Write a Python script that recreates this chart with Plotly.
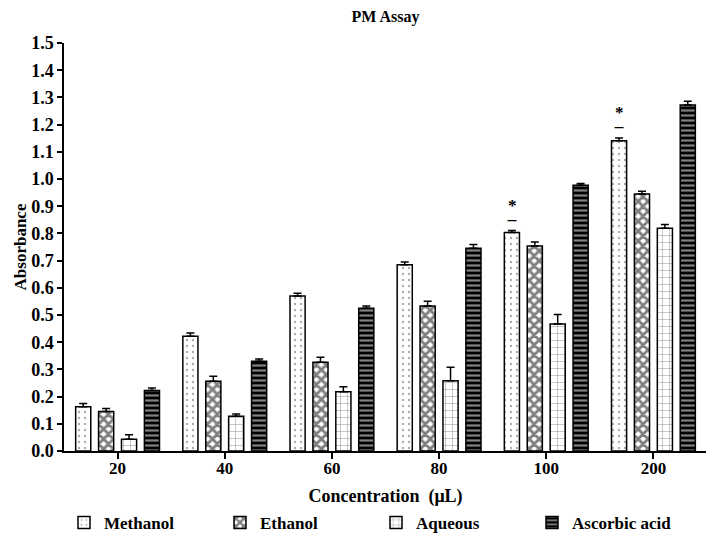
import plotly.graph_objects as go

# data
concentrations = ["20", "40", "60", "80", "100", "200"]
methanol = [0.163, 0.422, 0.570, 0.685, 0.803, 1.141]
methanol_err = [0.012, 0.012, 0.010, 0.010, 0.008, 0.010]
ethanol = [0.145, 0.256, 0.326, 0.533, 0.754, 0.945]
ethanol_err = [0.011, 0.019, 0.019, 0.018, 0.014, 0.010]
aqueous = [0.043, 0.128, 0.218, 0.258, 0.467, 0.819]
aqueous_err = [0.017, 0.008, 0.018, 0.050, 0.035, 0.014]
ascorbic = [0.222, 0.330, 0.525, 0.745, 0.977, 1.272]
ascorbic_err = [0.010, 0.008, 0.008, 0.014, 0.006, 0.014]

# methanol bars marked significant
sig_cats = ["100", "200"]

FONT = "Liberation Serif"

series = [
    ("Methanol", methanol, methanol_err, dict(shape=".", fgcolor="#555", bgcolor="white", size=6, solidity=0.12)),
    ("Ethanol", ethanol, ethanol_err, dict(shape="x", fgcolor="black", bgcolor="white", size=7, solidity=0.65)),
    ("Aqueous", aqueous, aqueous_err, dict(shape="+", fgcolor="black", bgcolor="white", size=7, solidity=0.12)),
    ("Ascorbic acid", ascorbic, ascorbic_err, dict(shape="-", fgcolor="white", bgcolor="black", size=5, solidity=0.45)),
]

fig = go.Figure()
for name, vals, errs, pat in series:
    fig.add_trace(go.Bar(
        x=concentrations,
        y=vals,
        name="<b>" + name + "</b>",
        marker=dict(color="white", pattern=pat, line=dict(color="black", width=1.5)),
        error_y=dict(type="data", array=errs, arrayminus=[0] * len(errs), symmetric=False,
                     color="black", thickness=1.5, width=4),
    ))

# asterisks above significant methanol bars (x given as category index)
for cat in sig_cats:
    i = concentrations.index(cat)
    top = methanol[i] + methanol_err[i]
    fig.add_annotation(x=i, y=top, xshift=-34, yshift=10, text="<b>—</b>", showarrow=False,
                       font=dict(family="DejaVu Sans", size=10, color="black"))
    fig.add_annotation(x=i, y=top, xshift=-34, yshift=25, text="<b>*</b>", showarrow=False,
                       font=dict(family=FONT, size=17, color="black"))

# page body adds an 8px offset, so the figure is 8px smaller than the window
fig.update_layout(
    width=706, height=529,
    margin=dict(l=56, r=7, t=35, b=86, autoexpand=False),
    plot_bgcolor="white", paper_bgcolor="white",
    barmode="group", bargap=0.145, bargroupgap=0.34,
    title=dict(text="<b>PM Assay</b>", xref="paper", x=0.5, xanchor="center", y=0.995, yanchor="top",
               pad=dict(t=0), font=dict(family=FONT, size=16, color="black")),
    font=dict(family=FONT, color="black"),
    legend=dict(orientation="h", x=0.0, y=-0.132, xanchor="left", yanchor="top",
                font=dict(family=FONT, size=17, color="black"),
                traceorder="normal", itemwidth=30, entrywidth=111),
    showlegend=True,
)
fig.update_xaxes(
    type="category", range=[-0.5, 5.5],
    showline=True, linecolor="black", linewidth=1.5,
    ticks="outside", ticklen=6, tickcolor="black", tickwidth=1.5,
    ticklabelstandoff=-5,
    tickfont=dict(family=FONT, size=17, color="black"),
    tickprefix="<b>", ticksuffix="</b>",
    title=dict(text="<b>Concentration  (μL)</b>", font=dict(family=FONT, size=18, color="black"), standoff=12),
)
fig.update_yaxes(
    range=[0, 1.5], dtick=0.1, tickformat=".1f",
    showline=True, linecolor="black", linewidth=1.5, showgrid=False, zeroline=False,
    ticks="outside", ticklen=5, tickcolor="black", tickwidth=1.5,
    tickfont=dict(family=FONT, size=18, color="black"),
    tickprefix="<b>", ticksuffix="</b>",
    title=dict(text="<b>Absorbance</b>", font=dict(family=FONT, size=17, color="black"), standoff=0),
)

fig.write_html("out.html")
